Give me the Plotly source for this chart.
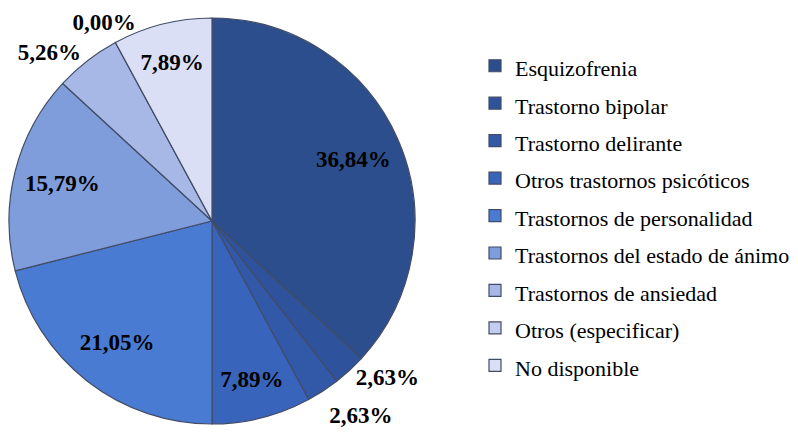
import plotly.graph_objects as go

# Diagnósticos (porcentaje de pacientes)
categorias = [
    "Esquizofrenia",
    "Trastorno bipolar",
    "Trastorno delirante",
    "Otros trastornos psicóticos",
    "Trastornos de personalidad",
    "Trastornos del estado de ánimo",
    "Trastornos de ansiedad",
    "Otros (especificar)",
    "No disponible",
]
porcentajes = [36.84, 2.63, 2.63, 7.89, 21.05, 15.79, 5.26, 0.00, 7.89]
colores = ["#2c4e8c", "#2e539c", "#3258a8", "#3964bb", "#4a7bd2",
           "#7f9cdb", "#a7b8e6", "#c3cdef", "#dadff5"]
# label layers, so crowded outside labels are not pushed apart with leader lines
posiciones_a = ["inside", "outside", "none", "inside", "inside",
                "inside", "outside", "none", "inside"]
posiciones_b = ["none", "none", "outside", "none", "none",
                "none", "none", "none", "none"]
posiciones_c = ["none", "none", "none", "none", "none",
                "none", "none", "outside", "none"]

# the page body has an 8px margin, so everything is nudged up/left by 8px
dominio = dict(x=[1 / 798, 407 / 798], y=[18 / 434, 424 / 434])
dominio_b = dict(x=[1 / 798, 407 / 798], y=[2 / 434, 408 / 434])
dominio_c = dict(x=[28 / 798, 432 / 798], y=[30 / 434, 1])
etiquetas_legenda = ['<span style="font-size:22px">%s</span>' % c for c in categorias]

fig = go.Figure()

# slices + legend
fig.add_trace(go.Pie(
    labels=etiquetas_legenda,
    values=porcentajes,
    sort=False,
    direction="clockwise",
    rotation=0,
    marker=dict(colors=colores, line=dict(color="#414c66", width=1.2)),
    textinfo="none",
    domain=dominio,
    automargin=False,
    hoverinfo="label+percent",
))

# labels: transparent rings so inside text sits further out, like the original
for pos, dom in [(posiciones_a, dominio), (posiciones_b, dominio_b), (posiciones_c, dominio_c)]:
    fig.add_trace(go.Pie(
        labels=categorias,
        values=porcentajes,
        sort=False,
        direction="clockwise",
        rotation=0,
        hole=0.52,
        marker=dict(colors=["rgba(0,0,0,0)"] * len(categorias), line=dict(width=0)),
        texttemplate="%{value:.2f}%",
        textposition=pos,
        insidetextorientation="horizontal",
        textfont=dict(family="Liberation Serif", size=23, color="black", weight="bold"),
        domain=dom,
        automargin=False,
        showlegend=False,
        hoverinfo="skip",
    ))

fig.update_layout(
    width=798,
    height=434,
    separators=",.",
    margin=dict(l=0, r=0, t=0, b=0),
    paper_bgcolor="white",
    plot_bgcolor="white",
    font=dict(family="Liberation Serif", color="black"),
    legend=dict(
        x=467 / 798,
        y=1 - 34 / 434,
        xanchor="left",
        yanchor="top",
        font=dict(family="Liberation Serif", size=26.5, color="black"),
    ),
)

fig.write_html("out.html")
